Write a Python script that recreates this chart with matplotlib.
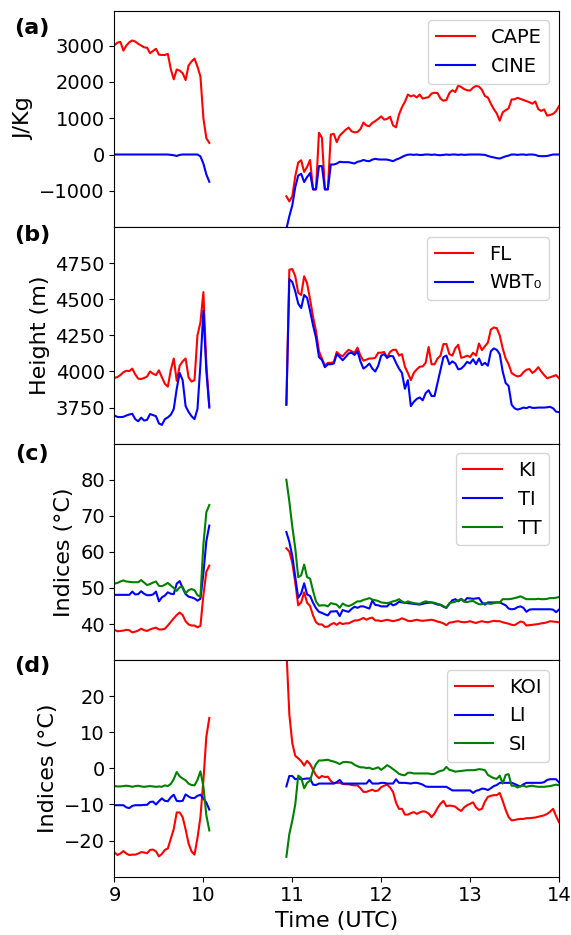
import numpy as np
import matplotlib
matplotlib.use("Agg")
import matplotlib.pyplot as plt

# sample times, minutes after 09:00 (two segments with a data gap)
t1_min = [0, 2, 4, 6, 8, 10, 12, 14, 16, 18, 20, 22, 24, 26, 28, 30, 32,
          34, 36, 38, 40, 42, 44, 46, 48, 50, 52, 54, 56, 58, 60, 62, 64]
t2_min = [116, 118, 120, 122, 124, 126, 128, 130, 132, 134, 136, 138, 140,
          142, 144, 146, 148, 150, 152, 154, 156, 158, 160, 162, 164, 166,
          168, 170, 172, 174, 176, 178, 180, 182, 184, 186, 188, 190, 192,
          194, 196, 198, 200, 202, 204, 206, 208, 210, 212, 214, 216, 218,
          220, 222, 224, 226, 228, 230, 232, 234, 236, 238, 240, 242, 244,
          246, 248, 250, 252, 254, 256, 258, 260, 262, 264, 266, 268, 270,
          272, 274, 276, 278, 280, 282, 284, 286, 288, 290, 292, 294, 296,
          298, 300]
t1 = [9 + m / 60 for m in t1_min]
t2 = [9 + m / 60 for m in t2_min]

# (a) CAPE / CINE  (J/Kg)
cape1 = [3010, 3080, 3100, 2860, 3000, 3090, 3140, 3110, 3050, 3000, 2950, 2940,
         2790, 2850, 2910, 2750, 2740, 2740, 2770, 2350, 2070, 2340, 2310, 2240,
         2050, 2450, 2560, 2640, 2420, 2150, 1000, 450, 320]
cape2 = [-1150, -1290, -1150, -600, -220, -160, -480, -340, -150, -960, -960, 600,
         460, -960, -960, 550, 570, 340, 520, 600, 680, 740, 640, 610, 620, 700,
         880, 800, 780, 870, 920, 980,
         1050, 960, 980, 1040, 800, 750, 1100, 1300, 1450, 1650, 1600, 1630, 1570,
         1650, 1540, 1560, 1580, 1680, 1700, 1690, 1540, 1480, 1500, 1690, 1770,
         1720, 1900, 1860, 1800, 1770, 1760, 1840, 1890, 1870, 1780, 1610, 1570,
         1400, 1250, 1130, 930, 1160, 1220, 1270, 1515, 1520, 1560, 1530, 1500,
         1470, 1440, 1400, 1460, 1250, 1200, 1240, 1070, 1090, 1120, 1190, 1330]
cine1 = [0, 0, 0, 0, 0, 0, 0, 0, 0, 0, 0, 0, 0, 0, 0, 0, 0, 0, 0, -10, -20, -40,
         -10, 0, 0, 0, 0, 0, 0, -50, -250, -550, -750]
cine2 = [-2050, -1700, -1400, -900, -580, -530, -760, -620, -510, -960, -960, -320,
         -320, -960, -960, -275, -275, -250, -200, -211, -211, -211, -230, -248,
         -200, -184, -150, -175, -184, -140, -119, -135,
         -138, -138, -140, -160, -184, -140, -110, -70, -30, -5, 0, -10, 0, -15,
         -10, 0, 0, -10, 0, -15, -20, -10, 0, -10, 0, 0, -10, 0, -10, -5, 0, 0,
         0, 0, -5, -10, -40, -64, -80, -100, -110, -80, -50, -30, 0, 0, -10, 0,
         0, -10, 0, 0, -10, -40, -46, -46, -40, -20, 0, 0, 0]

# (b) FL / WBT0  (m)
fl1 = [3955, 3962, 3975, 3995, 4005, 4003, 4020, 3980, 3950, 3948, 3955, 3965,
       4000, 3985, 3975, 4008, 3960, 3915, 3895, 4010, 4090, 3935, 4040, 4070,
       4090, 3960, 3930, 3940, 4250, 4340, 4550, 4050, 3760]
fl2 = [3770, 4705, 4710, 4660, 4545, 4530, 4660, 4610, 4500, 4380, 4280, 4140,
       4090, 4040, 4060, 4060, 4065, 4135, 4115, 4105, 4130, 4150, 4140, 4130,
       4165, 4110, 4075, 4082, 4090, 4090, 4095, 4130,
       4130, 4135, 4095, 4136, 4150, 4150, 4110, 4120, 4033, 3990, 3940, 3990,
       4015, 4033, 4035, 4060, 4170, 4050, 4050, 4090, 4110, 4190, 4190, 4120,
       4110, 4160, 4185, 4095, 4100, 4110, 4100, 4130, 4110, 4194, 4148, 4175,
       4200, 4290, 4305, 4300, 4250, 4160, 4090, 4050, 3990, 3975, 3966, 3970,
       3995, 4012, 4017, 3990, 4005, 4030, 4000, 3975, 3953, 3960, 3967, 3975,
       3953]
wbt1 = [3695, 3685, 3684, 3686, 3695, 3702, 3707, 3670, 3655, 3680, 3660, 3665,
        3705, 3698, 3690, 3640, 3630, 3670, 3682, 3700, 3740, 3880, 3990, 3940,
        3760, 3720, 3690, 3670, 3740, 4050, 4420, 4000, 3750]
wbt2 = [3770, 4640, 4620, 4555, 4470, 4440, 4530, 4510, 4420, 4320, 4235, 4100,
        4080, 4030, 4050, 4050, 4055, 4120, 4100, 4078, 4100, 4125, 4130, 4115,
        4140, 4070, 4020, 4035, 4055, 4020, 4000, 4040,
        4110, 4120, 4095, 4108, 4105, 4060, 4020, 3990, 3880, 3940, 3760, 3790,
        3810, 3820, 3800, 3850, 3870, 3830, 3830, 3920, 4010, 4100, 4110, 4050,
        4070, 4056, 4015, 4020, 4040, 4067, 4056, 4085, 4050, 4090, 4044, 4060,
        4040, 4140, 4160, 4150, 4120, 4000, 3920, 3900, 3770, 3745, 3736, 3742,
        3750, 3746, 3755, 3748, 3748, 3750, 3750, 3750, 3752, 3755, 3745, 3722,
        3718]

# (c) KI / TI / TT  (degC)
ki1 = [38.4, 38.0, 38.1, 38.2, 38.4, 38.3, 37.7, 37.9, 38.2, 38.7, 38.3, 38.1,
       38.5, 38.8, 39.0, 38.5, 38.5, 38.7, 39.6, 40.6, 41.6, 42.5, 43.2, 42.5,
       40.8, 39.9, 39.6, 39.6, 39.1, 39.5, 48.0, 54.5, 56.2]
ki2 = [61.0, 60.1, 57.0, 51.5, 45.2, 46.0, 48.8, 45.9, 45.0, 42.4, 40.5, 39.9,
       39.9, 39.2, 39.3, 39.9, 40.3, 39.8, 40.4, 40.0, 40.2, 40.2, 40.6, 41.0,
       41.0, 41.3, 41.7, 41.2, 41.6, 41.8, 41.0, 41.0,
       40.8, 41.0, 41.2, 41.0, 40.8, 41.0, 41.2, 41.6, 41.3, 40.9, 40.8, 41.0,
       41.2, 41.0, 40.9, 41.0, 41.1, 41.2, 41.0, 40.7, 40.5, 40.2, 39.7, 40.4,
       40.5, 40.7, 40.8, 40.6, 40.5, 40.6, 40.8, 40.5, 40.3, 40.6, 40.8, 40.6,
       40.5, 40.7, 40.9, 40.8, 40.8, 40.5, 40.3, 40.1, 39.8, 39.7, 40.2, 40.7,
       40.5, 39.6, 39.7, 39.8, 39.9, 40.0, 40.2, 40.3, 40.5, 40.8, 40.7, 40.6,
       40.5]
ti1 = [48.1, 48.1, 48.1, 48.1, 48.1, 48.1, 49.0, 48.2, 48.3, 49.1, 48.4, 48.0,
       48.0, 48.2, 49.0, 46.3, 47.4, 47.9, 48.8, 48.4, 48.3, 51.2, 51.9, 50.0,
       48.3, 47.6, 47.4, 47.1, 46.5, 47.0, 54.0, 63.0, 67.3]
ti2 = [65.5, 62.8, 58.9, 53.0, 47.3, 48.5, 51.3, 48.2, 47.8, 45.9, 44.4, 43.4,
       43.1, 42.7, 42.4, 43.5, 43.5, 43.6, 42.2, 43.9, 43.6, 43.4, 44.2, 44.8,
       44.5, 44.9, 44.9, 44.6, 44.3, 46.5, 45.3, 45.2,
       44.9, 44.9, 44.9, 45.8, 45.2, 45.5, 46.2, 46.0, 45.9, 45.8, 45.7, 45.6,
       45.5, 45.4, 45.6, 45.8, 45.9, 46.0, 45.7, 45.4, 45.3, 44.8, 44.5, 45.6,
       46.6, 46.9, 46.3, 47.0, 46.3, 47.2, 47.1, 47.0, 47.1, 47.2, 46.0, 45.4,
       46.0, 46.0, 46.0, 46.0, 46.0, 45.6, 45.2, 44.3, 44.1, 44.2, 44.7, 44.9,
       44.5, 43.4, 44.0, 44.1, 44.1, 44.1, 44.1, 44.1, 44.1, 44.1, 44.0, 43.3,
       44.0]
tt1 = [51.2, 51.4, 51.8, 52.1, 51.8, 51.7, 51.6, 51.6, 51.6, 52.2, 51.5, 50.8,
       51.1, 51.5, 51.8, 50.6, 50.5, 50.9, 51.4, 50.7, 50.0, 49.2, 50.2, 50.3,
       48.5, 49.4, 49.7, 49.4, 48.0, 47.6, 62.0, 71.0, 73.0]
tt2 = [80.0, 74.0, 67.0, 61.0, 53.0, 53.5, 56.5, 53.0, 52.6, 49.2, 46.3, 45.1,
       45.2, 45.2, 44.9, 45.8, 45.6, 45.4, 44.5, 45.7, 45.2, 45.0, 45.3, 45.8,
       46.3, 46.3, 46.7, 46.9, 47.2, 46.8, 46.6, 46.4,
       46.0, 45.9, 45.8, 46.0, 46.3, 46.5, 46.9, 46.3, 45.8, 46.3, 46.0, 45.8,
       45.7, 45.6, 46.0, 46.3, 46.1, 46.0, 45.9, 45.6, 45.4, 45.0, 44.5, 45.8,
       46.0, 46.2, 46.6, 46.9, 46.2, 46.1, 46.3, 46.4, 45.9, 45.5, 45.5, 45.8,
       45.7, 45.6, 45.8, 46.0, 46.0, 46.9, 46.9, 46.9, 47.0, 47.2, 47.4, 47.7,
       47.3, 46.9, 46.9, 46.9, 46.9, 47.0, 46.9, 46.9, 47.0, 47.2, 47.2, 47.3,
       47.5]

# (d) KOI / LI / SI  (degC)
koi1 = [-23.3, -24.0, -23.6, -22.9, -23.6, -24.0, -23.9, -23.9, -23.6, -23.2,
        -23.3, -23.5, -22.6, -22.5, -23.0, -24.4, -23.7, -22.6, -22.2, -19.5,
        -16.8, -12.2, -12.2, -13.5, -16.9, -20.8, -23.0, -23.9, -19.3, -13.5,
        -3.3, 8.8, 14.0]
koi2 = [33.0, 15.0, 7.0, 3.5, 2.8, 2.0, 0.8, 2.1, 1.2, -0.4, -1.9, -2.7, -2.1,
        -2.4, -2.3, -3.5, -4.1, -4.0, -4.0, -4.3, -4.4, -4.4, -4.6, -4.7, -4.7,
        -5.5, -6.5, -6.5, -6.2, -5.9, -6.3, -6.1,
        -5.2, -4.8, -4.5, -5.3, -6.5, -9.5, -11.2, -11.2, -12.8, -12.8, -12.4,
        -12.1, -12.6, -12.2, -11.9, -12.0, -12.5, -13.5, -12.5, -11.0, -9.8,
        -9.0, -10.5, -10.3, -10.4, -10.6, -11.3, -11.8, -10.8, -10.2, -9.8,
        -9.4, -10.8, -11.5, -11.2, -9.2, -7.9, -7.6, -7.4, -7.4, -6.8, -9.0,
        -11.5, -13.5, -14.4, -14.3, -14.1, -14.0, -14.0, -13.8, -13.8, -13.7,
        -13.6, -13.4, -13.2, -13.0, -12.6, -12.0, -11.2, -13.2, -14.9]
li1 = [-10.2, -10.2, -10.2, -10.2, -10.8, -11.0, -10.4, -10.2, -10.2, -10.2,
       -10.1, -10.1, -9.3, -9.2, -10.0, -9.1, -8.3, -9.0, -9.1, -8.0, -7.3,
       -9.0, -9.1, -9.0, -7.2, -7.8, -8.2, -8.2, -7.6, -7.3, -8.3, -9.5, -11.4]
li2 = [-5.0, -2.1, -2.1, -3.0, -2.8, -3.0, -2.9, -2.8, -2.8, -4.5, -4.6, -4.2,
       -4.2, -4.2, -4.2, -4.2, -4.2, -3.8, -3.2, -4.2, -4.2, -4.2, -4.2, -4.2,
       -4.2, -4.2, -4.2, -4.2, -3.2, -4.2, -4.2, -4.2,
       -4.0, -4.0, -4.2, -4.2, -4.2, -3.0, -4.0, -4.0, -4.0, -4.1, -4.2, -4.0,
       -4.0, -4.2, -4.5, -5.0, -5.1, -5.1, -5.1, -5.1, -5.1, -5.1, -5.1, -5.6,
       -6.1, -6.1, -6.1, -6.1, -6.1, -6.1, -6.1, -6.8, -6.2, -6.0, -5.6, -5.7,
       -6.0, -5.5, -4.9, -4.6, -4.0, -4.0, -4.0, -4.0, -4.0, -4.3, -4.7, -5.0,
       -4.4, -4.0, -4.0, -4.0, -4.0, -4.0, -4.0, -3.8, -3.2, -3.0, -3.0, -3.0,
       -3.9]
si1 = [-4.9, -5.0, -5.0, -4.9, -4.8, -4.9, -5.1, -4.9, -4.8, -5.0, -5.1, -5.0,
       -4.9, -5.0, -5.1, -5.0, -5.1, -4.7, -4.9, -4.3, -3.0, -1.0, -2.2, -2.8,
       -3.3, -4.2, -4.6, -4.7, -3.2, -0.8, -5.0, -13.0, -17.2]
si2 = [-24.5, -18.2, -14.5, -10.0, -2.0, -2.6, -5.5, -4.0, -3.4, -0.6, 1.2, 2.2,
       2.2, 2.3, 2.4, 2.1, 1.9, 1.6, 1.2, 1.7, 1.8, 1.7, 1.6, 1.0, 0.6, 0.3, 0.3,
       0.1, 0.2, -0.2, 0.0, 0.3,
       -0.4, 0.2, 0.9, 0.4, -0.2, -0.8, -1.5, -1.8, -1.9, -1.2, -1.2, -1.4, -1.4,
       -1.4, -1.4, -1.4, -1.4, -1.6, -1.5, -1.0, -0.7, -0.5, 0.4, -0.4, -0.6,
       -0.9, -0.8, -0.7, -0.6, -0.5, -0.5, -0.5, -0.4, -0.2, -0.3, -0.5, -1.8,
       -2.3, -2.7, -2.9, -2.0, -4.2, -1.8, -1.6, -4.8, -4.8, -5.3, -4.9, -4.8,
       -5.1, -4.9, -4.8, -5.0, -5.1, -5.1, -5.1, -5.0, -4.9, -4.7, -4.5, -4.7]

x_ticks = [9, 10, 11, 12, 13, 14]

fig = plt.figure(figsize=(5.71, 9.35), dpi=100)
axes = fig.subplots(4, 1, sharex=True)
fig.subplots_adjust(left=0.2005, right=0.979, top=0.9886, bottom=0.0624, hspace=0)


def draw(ax, s1, s2, color, label):
    ax.plot(t1, s1, color=color, lw=1.5)
    ax.plot(t2, s2, color=color, lw=1.5, label=label)


ax = axes[0]
draw(ax, cape1, cape2, 'red', 'CAPE')
draw(ax, cine1, cine2, 'blue', 'CINE')
ax.set_ylim(-2000, 3960)
ax.set_yticks([-1000, 0, 1000, 2000, 3000])
ax.set_ylabel('J/Kg', fontsize=16)

ax = axes[1]
draw(ax, fl1, fl2, 'red', 'FL')
draw(ax, wbt1, wbt2, 'blue', 'WBT₀')
ax.set_ylim(3500, 5000)
ax.set_yticks([3750, 4000, 4250, 4500, 4750])
ax.set_ylabel('Height (m)', fontsize=16)

ax = axes[2]
draw(ax, ki1, ki2, 'red', 'KI')
draw(ax, ti1, ti2, 'blue', 'TI')
draw(ax, tt1, tt2, 'green', 'TT')
ax.set_ylim(30, 90)
ax.set_yticks([40, 50, 60, 70, 80])
ax.set_ylabel('Indices (°C)', fontsize=16)

ax = axes[3]
draw(ax, koi1, koi2, 'red', 'KOI')
draw(ax, li1, li2, 'blue', 'LI')
draw(ax, si1, si2, 'green', 'SI')
ax.set_ylim(-30, 30)
ax.set_yticks([-20, -10, 0, 10, 20])
ax.set_ylabel('Indices (°C)', fontsize=16)
ax.set_xlabel('Time (UTC)', fontsize=16)

for ax in axes:
    ax.set_xlim(9, 14)
    ax.set_xticks(x_ticks)
    ax.tick_params(labelsize=14)
    ax.legend(loc='upper right', fontsize=14)
for ax in axes[:3]:
    ax.tick_params(axis='x', bottom=False, labelbottom=False)

for lab, yc in zip(['(a)', '(b)', '(c)', '(d)'], [28, 235, 454, 666]):
    fig.text(32 / 571, 1 - yc / 935, lab, fontsize=16, fontweight='bold',
             ha='center', va='center')

fig.savefig('out.png', dpi=100)
